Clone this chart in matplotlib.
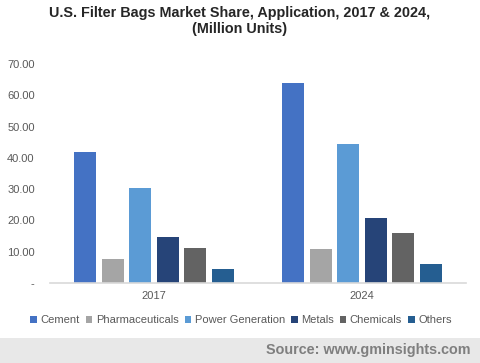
import matplotlib
matplotlib.use("Agg")
import matplotlib.pyplot as plt
import numpy as np
from matplotlib.patches import Rectangle

years = ["2017", "2024"]
series = ["Cement", "Pharmaceuticals", "Power Generation", "Metals", "Chemicals", "Others"]
values = {
    "Cement": [42.0, 63.8],
    "Pharmaceuticals": [7.7, 10.9],
    "Power Generation": [30.4, 44.5],
    "Metals": [14.7, 20.8],
    "Chemicals": [11.2, 16.0],
    "Others": [4.5, 6.1],
}
colors = ["#4472C4", "#A5A5A5", "#5B9BD5", "#264478", "#636363", "#255E91"]
yticks = [0, 10, 20, 30, 40, 50, 60, 70]
ytick_labels = ["-", "10.00", "20.00", "30.00", "40.00", "50.00", "60.00", "70.00"]

plt.rcParams['font.family'] = ['Liberation Sans', 'DejaVu Sans']
fig = plt.figure(figsize=(4.8, 3.63), dpi=100)
ax = fig.add_axes([50/480, 1-283/363, 416/480, (283-64)/363])

x = np.arange(len(years))
step = 0.132
width = 0.106
n = len(series)
for i, (s, c) in enumerate(zip(series, colors)):
    ax.bar(x + (i - (n-1)/2) * step, values[s], width=width, color=c, label=s)

ax.set_xlim(-0.5, 1.5)
ax.set_ylim(0, 70)
ax.set_yticks(yticks)
ax.set_yticklabels(ytick_labels)
ax.set_xticks(x)
ax.set_xticklabels(years)
for sp in ["top", "right", "left"]:
    ax.spines[sp].set_visible(False)
ax.spines["bottom"].set_color("#D9D9D9")
ax.spines["bottom"].set_linewidth(1.2)
ax.tick_params(axis="both", length=0, labelsize=8, labelcolor="#595959")
ax.tick_params(axis="y", pad=11)
ax.tick_params(axis="x", pad=6)

fig.text(0.5, 1-13/363, "U.S. Filter Bags Market Share, Application, 2017 & 2024,",
         ha="center", va="center", fontsize=10.4, fontweight="bold", color="#262626")
fig.text(0.5, 1-29/363, "(Million Units)",
         ha="center", va="center", fontsize=10.4, fontweight="bold", color="#262626")

leg = fig.legend(loc="center", bbox_to_anchor=(241/480, 1-320/363), ncol=6, frameon=False,
                 fontsize=8, handlelength=0.6, handleheight=0.6, handletextpad=0.3,
                 columnspacing=0.55, labelcolor="#595959")

fig.patches.append(Rectangle((0, 0), 1, 25/363, transform=fig.transFigure,
                             facecolor="#E8E8E8", edgecolor="none", zorder=0))
fig.text(470/480, 1-350/363, "Source: www.gminsights.com", ha="right", va="center",
         fontsize=10.4, fontweight="bold", color="#7F7F7F")

fig.savefig("out.png", dpi=100)
